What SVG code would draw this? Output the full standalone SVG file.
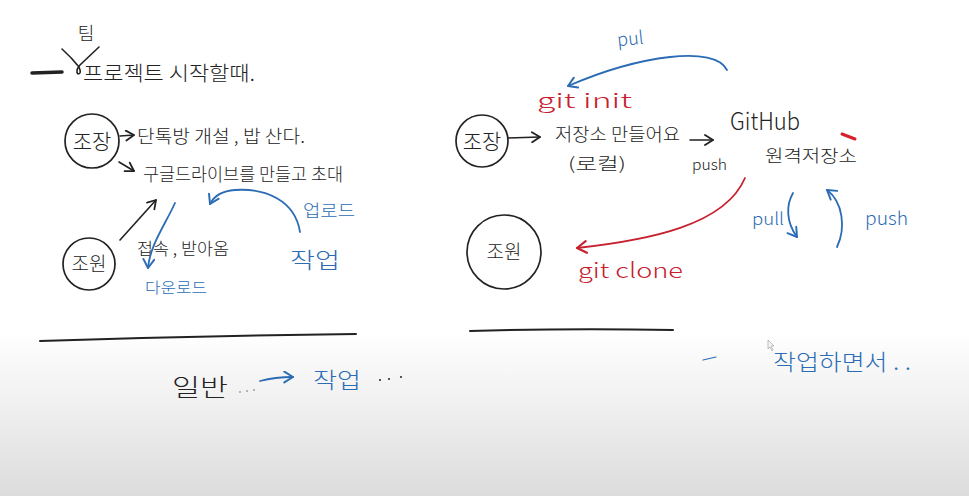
<svg xmlns="http://www.w3.org/2000/svg" width="969" height="496" viewBox="0 0 969 496">
<defs>
<linearGradient id="bg" x1="0" y1="0" x2="0" y2="1" gradientUnits="objectBoundingBox">
<stop offset="0" stop-color="#ffffff"/>
<stop offset="0.67" stop-color="#ffffff"/>
<stop offset="1" stop-color="#dcdcdc"/>
</linearGradient>
<marker id="ak" viewBox="0 0 12 12" refX="10" refY="6" markerWidth="12" markerHeight="12" markerUnits="userSpaceOnUse" orient="auto"><path d="M2,1 L10,6 L2,11" fill="none" stroke="#222" stroke-width="1.8" stroke-linecap="round" stroke-linejoin="round"/></marker>
<marker id="ab" viewBox="0 0 12 12" refX="10" refY="6" markerWidth="13" markerHeight="13" markerUnits="userSpaceOnUse" orient="auto"><path d="M2,1 L10,6 L2,11" fill="none" stroke="#2b6cb4" stroke-width="1.8" stroke-linecap="round" stroke-linejoin="round"/></marker>
<marker id="ar" viewBox="0 0 12 12" refX="10" refY="6" markerWidth="14" markerHeight="14" markerUnits="userSpaceOnUse" orient="auto"><path d="M2,1 L10,6 L2,11" fill="none" stroke="#c7202f" stroke-width="1.8" stroke-linecap="round" stroke-linejoin="round"/></marker>
</defs>
<style>
text{font-family:"Noto Sans CJK KR","Noto Sans",sans-serif;font-weight:300;}
.k{fill:#222;}
.b{fill:#2b6cb4;}
.r{fill:#c7202f;}
.node circle{fill:none;stroke:#222;stroke-width:1.7;}
.lk{fill:none;stroke:#222;stroke-width:1.6;stroke-linecap:round;}
.lb{fill:none;stroke:#2b6cb4;stroke-width:1.8;stroke-linecap:round;}
.lr{fill:none;stroke:#c7202f;stroke-width:1.8;stroke-linecap:round;}
</style>
<rect x="0" y="0" width="969" height="496" fill="url(#bg)"/>

<!-- title -->
<g id="title">
<line x1="32" y1="73" x2="62" y2="72" stroke="#222" stroke-width="3.5" stroke-linecap="round"/>
<path class="lk" d="M62,49 Q72,58 79,67 Q82,74 78,74 Q75,71 80,65 L99,47"/>
<text class="k" x="86" y="40" font-size="18" text-anchor="middle">팀</text>
<text class="k" x="83" y="81" font-size="20" textLength="172" lengthAdjust="spacingAndGlyphs">프로젝트 시작할때.</text>
</g>

<!-- left nodes -->
<g id="jojang-left" class="node">
<circle cx="92" cy="141" r="27"/>
<text class="k" x="92" y="149" font-size="21" text-anchor="middle">조장</text>
</g>
<g id="jowon-left" class="node">
<circle cx="89" cy="264" r="26"/>
<text class="k" x="89" y="271" font-size="19" text-anchor="middle">조원</text>
</g>
<g id="left-labels">
<text class="k" x="137" y="143" font-size="18" textLength="168" lengthAdjust="spacingAndGlyphs">단톡방 개설 , 밥 산다.</text>
<text class="k" x="143" y="181" font-size="18" textLength="200" lengthAdjust="spacingAndGlyphs">구글드라이브를 만들고 초대</text>
<text class="k" x="137" y="255" font-size="17" textLength="92" lengthAdjust="spacingAndGlyphs">접속 , 받아옴</text>
<text class="b" x="145" y="293" font-size="15" textLength="62" lengthAdjust="spacingAndGlyphs">다운로드</text>
<text class="b" x="303" y="217" font-size="17" textLength="52" lengthAdjust="spacingAndGlyphs">업로드</text>
<text class="b" x="290" y="268" font-size="22" textLength="50" lengthAdjust="spacingAndGlyphs">작업</text>
<text class="k" x="172" y="396" font-size="24" textLength="56" lengthAdjust="spacingAndGlyphs">일반</text>
<text class="b" x="313" y="388" font-size="22" textLength="48" lengthAdjust="spacingAndGlyphs">작업</text>
</g>

<!-- right nodes -->
<g id="jojang-right" class="node">
<circle cx="482" cy="141" r="26"/>
<text class="k" x="482" y="149" font-size="21" text-anchor="middle">조장</text>
</g>
<g id="jowon-right" class="node">
<circle cx="504" cy="252" r="37"/>
<text class="k" x="504" y="259" font-size="19" text-anchor="middle">조원</text>
</g>
<g id="github">
<text class="k" x="730" y="130" font-size="24" textLength="70" lengthAdjust="spacingAndGlyphs">GitHub</text>
<text class="k" x="765" y="162" font-size="17" textLength="92" lengthAdjust="spacingAndGlyphs">원격저장소</text>
<line x1="842" y1="134" x2="855" y2="139" stroke="#d8202a" stroke-width="3" stroke-linecap="round"/>
</g>
<g id="right-labels">
<text class="b" x="617" y="45" font-size="18" transform="rotate(-6 630 38)">pul</text>
<text class="r" x="537" y="108" font-size="20" textLength="95" lengthAdjust="spacingAndGlyphs">git init</text>
<text class="k" x="555" y="141" font-size="18" textLength="125" lengthAdjust="spacingAndGlyphs">저장소 만들어요</text>
<text class="k" x="568" y="170" font-size="17" textLength="58" lengthAdjust="spacingAndGlyphs">(로컬)</text>
<text class="k" x="692" y="170" font-size="15" textLength="35" lengthAdjust="spacingAndGlyphs">push</text>
<text class="r" x="578" y="278" font-size="21" textLength="105" lengthAdjust="spacingAndGlyphs">git clone</text>
<text class="b" x="752" y="225" font-size="17" textLength="32" lengthAdjust="spacingAndGlyphs">pull</text>
<text class="b" x="865" y="225" font-size="18" textLength="43" lengthAdjust="spacingAndGlyphs">push</text>
<text class="b" x="773" y="370" font-size="22" textLength="138" lengthAdjust="spacingAndGlyphs">작업하면서 . .</text>
</g>

<!-- connectors -->
<g id="connectors">
<path class="lk" d="M120,136 L134,135" marker-end="url(#ak)"/>
<path class="lk" d="M119,162 L134,171" marker-end="url(#ak)"/>
<path class="lk" d="M120,240 L156,200" marker-end="url(#ak)"/>
<path class="lb" d="M175,203 C165,225 150,245 148,268" marker-end="url(#ab)"/>
<path class="lb" d="M300,232 C295,200 265,188 235,190 C222,191 214,196 210,204" marker-end="url(#ab)"/>
<path class="lb" d="M260,381 Q275,377 293,377" marker-end="url(#ab)"/>
<path class="lb" d="M727,70 C715,45 640,55 568,86" marker-end="url(#ab)"/>
<path class="lk" d="M508,138 L540,137" marker-end="url(#ak)"/>
<path class="lk" d="M690,140 L713,140" marker-end="url(#ak)"/>
<path class="lr" d="M745,178 C725,225 650,240 577,248" marker-end="url(#ar)"/>
<path class="lb" d="M793,193 C786,205 786,222 797,237" marker-end="url(#ab)"/>
<path class="lb" d="M837,247 C846,228 843,202 827,190" marker-end="url(#ab)"/>
</g>

<!-- separators and marks -->
<g id="marks">
<path d="M40,341 Q200,336 356,334" fill="none" stroke="#222" stroke-width="2" stroke-linecap="round"/>
<path d="M470,331 Q570,328 673,330" fill="none" stroke="#222" stroke-width="2" stroke-linecap="round"/>
<line x1="703" y1="360" x2="716" y2="357" stroke="#2b6cb4" stroke-width="1.2" stroke-linecap="round"/>
<circle cx="240" cy="392" r="0.9" fill="#999"/>
<circle cx="247" cy="391" r="0.9" fill="#999"/>
<circle cx="254" cy="390" r="0.9" fill="#999"/>
<circle cx="380" cy="380" r="1.1" fill="#333"/>
<circle cx="389" cy="379" r="1.1" fill="#333"/>
<circle cx="401" cy="377" r="1.1" fill="#333"/>
<path d="M768,340 L768,349 L770,347 L772,351 L773,350 L771,346 L774,346 Z" fill="#f4f4f4" stroke="#999" stroke-width="0.6"/>
</g>
</svg>
